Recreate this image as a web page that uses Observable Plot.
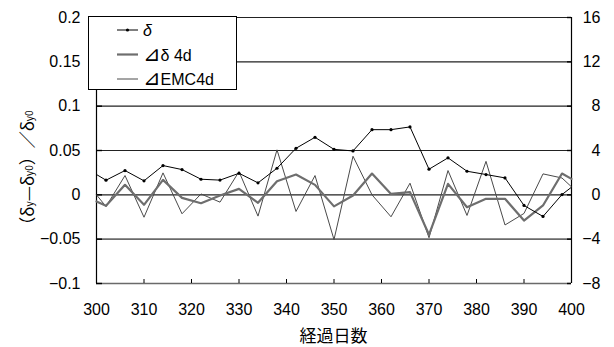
<!DOCTYPE html>
<html>
<head>
<meta charset="utf-8">
<script src="https://cdn.jsdelivr.net/npm/d3@7"></script>
<script src="https://cdn.jsdelivr.net/npm/@observablehq/plot@0.6"></script>
<style>
  html, body { margin: 0; padding: 0; background: #fff; }
</style>
</head>
<body>
<div id="chart"></div>
<script>
// ---- data ----
const days = [300,302,306,310,314,318,322,326,330,334,338,342,346,350,354,358,362,366,370,374,378,382,386,390,394,398,400];
// δ  (left axis)
const delta = [0.0229,0.0165,0.0274,0.0158,0.0330,0.0285,0.0176,0.0166,0.0243,0.0135,0.0300,0.0525,0.0649,0.0513,0.0495,0.0735,0.0735,0.0766,0.0289,0.0417,0.0266,0.0229,0.0191,-0.0120,-0.0244,0.0003,0.0086];
// ⊿δ 4d  (right axis)
const dDelta4d = [-0.60,-0.99,0.90,-0.90,1.35,-0.27,-0.76,-0.06,0.54,-0.72,1.22,1.83,0.90,-1.04,-0.06,1.92,0.08,0.24,-3.60,0.99,-1.12,-0.36,-0.36,-2.32,-0.96,1.92,1.44];
// ⊿EMC4d  (right axis)
const dEMC4d = [0.00,-1.06,1.74,-2.02,1.98,-1.71,0.08,-0.66,2.10,-1.92,4.06,-1.50,1.74,-4.04,3.48,0.00,-1.98,1.05,-3.87,2.19,-1.86,3.02,-2.72,-1.68,1.89,1.52,0.72];

const xTicks = [300,310,320,330,340,350,360,370,380,390,400];
const leftTicks = [-0.1,-0.05,0,0.05,0.1,0.15,0.2];
const leftLabels = ["−0.1","−0.05","0","0.05","0.1","0.15","0.2"];
const rightLabels = ["−8","−4","0","4","8","12","16"];
const legendNames = ["δ","⊿δ 4d","⊿EMC4d"];
const xTitle = "経過日数";

const rightScale = 80; // right axis units per left axis unit

const deltaRows = days.map((d,i) => ({day: d, v: delta[i]}));
const thickRows = days.map((d,i) => ({day: d, v: dDelta4d[i] / rightScale}));
const thinRows  = days.map((d,i) => ({day: d, v: dEMC4d[i] / rightScale}));
const markerRows = deltaRows.filter(r => r.day > 300 && r.day < 400);

const darkGrid = leftTicks.filter(t => t >= 0);
const lightGrid = leftTicks.filter(t => t < 0);

const svg = Plot.plot({
  width: 614,
  height: 347,
  marginLeft: 96,
  marginRight: 43,
  marginTop: 17,
  marginBottom: 64,
  style: {fontFamily: "'Liberation Sans', Arial, sans-serif", fontSize: "16px", background: "#fff", color: "#000"},
  x: {domain: [300, 400]},
  y: {domain: [-0.1, 0.2]},
  marks: [
    // gridlines
    Plot.ruleY(darkGrid, {y: d => d, x1: 300, x2: 400, stroke: "#222", strokeWidth: 1.2}),
    Plot.ruleY(lightGrid, {y: d => d, x1: 300, x2: 400, stroke: "#6a6a6a", strokeWidth: 1.6}),
    // vertical axes lines
    Plot.ruleX([300, 400], {x: d => d, y1: -0.1, y2: 0.2, stroke: "#000", strokeWidth: 1.2}),
    // inward x ticks
    Plot.ruleX(xTicks, {x: d => d, y1: -0.1, y2: -0.1, insetTop: -4, stroke: "#000", strokeWidth: 1}),
    // inward y ticks
    Plot.ruleY(leftTicks, {y: d => d, x1: 300, x2: 300, insetRight: -6, stroke: "#000", strokeWidth: 1.4}),
    Plot.ruleY(leftTicks, {y: d => d, x1: 400, x2: 400, insetLeft: -4, stroke: "#000", strokeWidth: 1.4}),
    // series
    Plot.line(thinRows, {x: "day", y: "v", stroke: "#4a4a4a", strokeWidth: 1}),
    Plot.line(thickRows, {x: "day", y: "v", stroke: "#6e6e6e", strokeWidth: 2.2}),
    Plot.line(deltaRows, {x: "day", y: "v", stroke: "#000", strokeWidth: 1}),
    Plot.dot(markerRows, {x: "day", y: "v", r: 1.6, fill: "#000", stroke: "none"}),
    // axes labels
    Plot.axisX(xTicks, {anchor: "bottom", tickSize: 0, tickPadding: 20, tickFormat: d => String(d), label: null}),
    Plot.axisY(leftTicks, {anchor: "left", tickSize: 0, tickPadding: 16, tickFormat: d => leftLabels[leftTicks.indexOf(d)], label: null}),
    Plot.axisY(leftTicks, {anchor: "right", tickSize: 0, tickPadding: 29, textAnchor: "end", tickFormat: d => rightLabels[leftTicks.indexOf(d)], label: null})
  ]
});

const root = d3.select(svg);

// x title
root.append("text")
  .attr("x", 333.5).attr("y", 342)
  .attr("text-anchor", "middle")
  .attr("font-family", "'Noto Sans CJK JP', sans-serif")
  .attr("font-size", 17)
  .attr("fill", "#000")
  .text(xTitle);

// y title with subscripts
const yt = root.append("text")
  .attr("transform", "translate(26,172) rotate(-90)")
  .attr("text-anchor", "middle")
  .attr("dominant-baseline", "central")
  .attr("font-family", "'Noto Sans CJK JP', sans-serif")
  .attr("font-size", 17)
  .attr("fill", "#000");
const parts = [["（δ", false], ["y", true], ["—δ", false], ["y0", true], ["）／δ", false], ["y0", true]];
parts.forEach(([t, sub]) => {
  const ts = yt.append("tspan").text(t);
  if (sub) ts.attr("font-size", 10).attr("baseline-shift", "-25%");
});

// legend
const lg = root.append("g");
lg.append("rect").attr("x", 88.5).attr("y", 16.5).attr("width", 148).attr("height", 73)
  .attr("fill", "#fff").attr("stroke", "#000").attr("stroke-width", 1);
const legendStyles = [
  {stroke: "#000", width: 1, dot: true},
  {stroke: "#6e6e6e", width: 2.2, dot: false},
  {stroke: "#4a4a4a", width: 1, dot: false}
];
const rowsY = [30, 54.5, 79];
legendNames.forEach((name, i) => {
  const s = legendStyles[i];
  lg.append("line").attr("x1", 117).attr("x2", 138).attr("y1", rowsY[i]).attr("y2", rowsY[i])
    .attr("stroke", s.stroke).attr("stroke-width", s.width);
  if (s.dot) lg.append("circle").attr("cx", 127.5).attr("cy", rowsY[i]).attr("r", 1.6).attr("fill", "#000");
  const t = lg.append("text").attr("x", 143).attr("y", rowsY[i] + 6)
    .attr("text-anchor", "start")
    .attr("font-family", "'Liberation Sans', Arial, sans-serif")
    .attr("font-size", 16)
    .attr("fill", "#000");
  if (name.startsWith("⊿")) {
    t.append("tspan").attr("font-family", "'DejaVu Sans', sans-serif").attr("font-size", 21).text("⊿");
    t.append("tspan").text(name.slice(1));
  } else {
    t.attr("font-style", "italic").text(name);
  }
});

document.getElementById("chart").appendChild(svg);
</script>
</body>
</html>
